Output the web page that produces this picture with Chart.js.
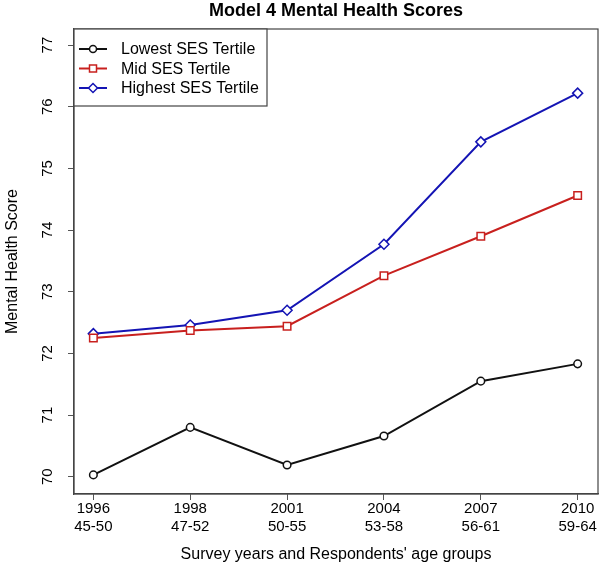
<!DOCTYPE html>
<html>
<head>
<meta charset="utf-8">
<script src="https://cdn.jsdelivr.net/npm/chart.js@4/dist/chart.umd.min.js"></script>
<style>
  html, body { margin: 0; padding: 0; background: #fff; }
  #wrap { width: 600px; height: 567px; }
</style>
</head>
<body>
<div id="wrap"><canvas id="c"></canvas></div>
<script>
const years = ['1996', '1998', '2001', '2004', '2007', '2010'];
const ageGroups = ['45-50', '47-52', '50-55', '53-58', '56-61', '59-64'];
const lowest = [70.03, 70.80, 70.19, 70.66, 71.55, 71.83];
const mid = [72.25, 72.37, 72.44, 73.26, 73.90, 74.56];
const highest = [72.32, 72.46, 72.70, 73.77, 75.43, 76.22];
const yTicks = [70, 71, 72, 73, 74, 75, 76, 77];

const FONT = 'Arial, "Liberation Sans", sans-serif';
const pts = (arr) => arr.map((v, i) => ({ x: i, y: v }));

// R style box around the plot + legend box inside top-left
const boxPlugin = {
  id: 'rbox',
  afterDraw(chart) {
    const { ctx, chartArea: a } = chart;
    ctx.save();
    ctx.strokeStyle = '#444';
    ctx.lineWidth = 1.2;
    ctx.strokeRect(a.left, a.top, a.right - a.left, a.bottom - a.top);
    // legend
    const x0 = a.left, y0 = a.top, w = 193, h = 77;
    ctx.fillStyle = '#fff';
    ctx.fillRect(x0, y0, w, h);
    ctx.strokeRect(x0, y0, w, h);
    ctx.font = '16px ' + FONT;
    ctx.textBaseline = 'middle';
    chart.data.datasets.forEach((ds, i) => {
      const y = y0 + 20 + i * 19.5;
      ctx.strokeStyle = ds.borderColor;
      ctx.lineWidth = 2;
      ctx.beginPath(); ctx.moveTo(x0 + 5, y); ctx.lineTo(x0 + 33, y); ctx.stroke();
      ctx.lineWidth = 1.5;
      ctx.fillStyle = '#fff';
      const r = 3.5;
      ctx.beginPath();
      if (ds.pointStyle === 'circle') ctx.arc(x0 + 19, y, r, 0, Math.PI * 2);
      else if (ds.pointStyle === 'rect') ctx.rect(x0 + 19 - r, y - r, 2 * r, 2 * r);
      else { ctx.moveTo(x0 + 19, y - r - 1); ctx.lineTo(x0 + 19 + r + 1, y); ctx.lineTo(x0 + 19, y + r + 1); ctx.lineTo(x0 + 19 - r - 1, y); ctx.closePath(); }
      ctx.fill(); ctx.stroke();
      ctx.fillStyle = '#000';
      ctx.fillText(ds.label, x0 + 47, y + 1);
    });
    ctx.restore();
  },
};

const line = (label, data, color, style, r) => ({
  label, data: pts(data), borderColor: color, backgroundColor: '#fff',
  borderWidth: 2, pointStyle: style, pointRadius: r,
  pointBorderWidth: 1.5, pointBorderColor: color, tension: 0,
});

new Chart(document.getElementById('c'), {
  type: 'line',
  data: {
    datasets: [
      line('Lowest SES Tertile', lowest, '#111111', 'circle', 3.8),
      line('Mid SES Tertile', mid, '#c8201e', 'rect', 5.3),
      line('Highest SES Tertile', highest, '#1414b4', 'rectRot', 5),
    ],
  },
  options: {
    responsive: true, maintainAspectRatio: false, animation: false,
    layout: { autoPadding: false, padding: { left: 0, right: 2, top: 0, bottom: 0 } },
    plugins: {
      legend: { display: false },
      tooltip: { enabled: false },
      title: {
        display: true, text: 'Model 4 Mental Health Scores', fullSize: false,
        color: '#000', font: { family: FONT, size: 18, weight: 'bold' },
        padding: { top: 0, bottom: 7.4 },
      },
    },
    scales: {
      x: {
        type: 'linear', min: -0.2, max: 5.21,
        afterBuildTicks: (s) => { s.ticks = years.map((_, i) => ({ value: i })); },
        afterFit: (s) => { s.height = 73; s.paddingLeft = 0; s.paddingRight = 0; },
        grid: { drawOnChartArea: false, tickLength: 6, color: '#555', tickWidth: 1 },
        border: { display: true, color: '#444', width: 1.2 },
        ticks: {
          padding: 0, color: '#000', maxRotation: 0, autoSkip: false,
          font: { family: FONT, size: 15 },
          callback: (v) => [years[v], ageGroups[v]],
        },
        title: {
          display: true, text: "Survey years and Respondents' age groups",
          color: '#000', font: { family: FONT, size: 16 }, padding: { top: 0, bottom: 3 },
        },
      },
      y: {
        min: 69.72, max: 77.26,
        afterBuildTicks: (s) => { s.ticks = yTicks.map((v) => ({ value: v })); },
        afterFit: (s) => { s.width = 74; s.paddingTop = 0; s.paddingBottom = 0; },
        grid: { drawOnChartArea: false, tickLength: 6, color: '#555', tickWidth: 1 },
        border: { display: true, color: '#444', width: 1.2 },
        ticks: {
          padding: 12, color: '#000', minRotation: 90, maxRotation: 90, crossAlign: 'center',
          font: { family: FONT, size: 15 },
        },
        title: {
          display: true, text: 'Mental Health Score',
          color: '#000', font: { family: FONT, size: 16 }, padding: { top: 3, bottom: 0 },
        },
      },
    },
  },
  plugins: [boxPlugin],
});
</script>
</body>
</html>
